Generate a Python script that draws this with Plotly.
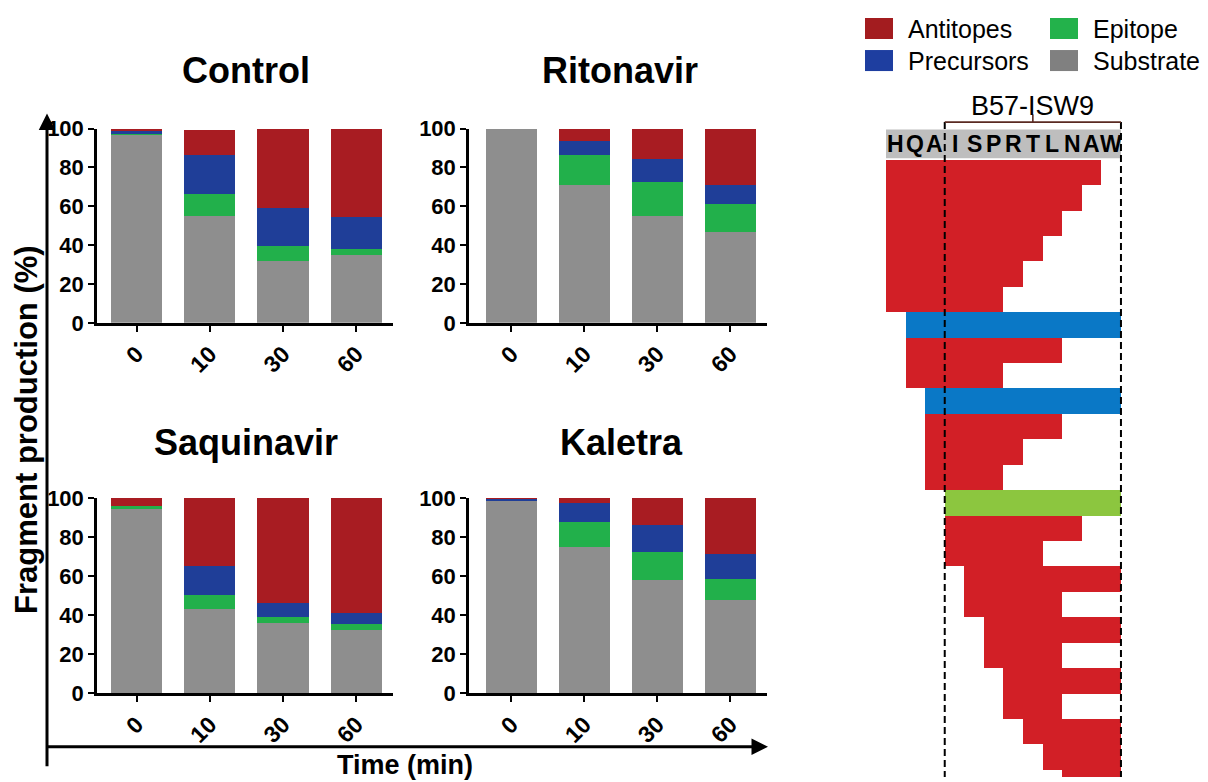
import plotly.graph_objects as go

# ---------------- data ----------------
times = ["0", "10", "30", "60"]
treatments = ["Control", "Ritonavir", "Saquinavir", "Kaletra"]
series_names = ["Substrate", "Epitope", "Precursors", "Antitopes"]

control_substrate = [97.0, 55.0, 31.7, 34.8]
control_epitope = [0.8, 11.4, 7.8, 3.3]
control_precursors = [0.8, 19.9, 19.7, 16.3]
control_antitopes = [1.4, 13.2, 40.8, 45.6]

ritonavir_substrate = [100.0, 71.2, 55.0, 46.7]
ritonavir_epitope = [0.0, 15.4, 17.4, 14.5]
ritonavir_precursors = [0.0, 6.9, 12.0, 10.0]
ritonavir_antitopes = [0.0, 6.5, 15.6, 28.8]

saquinavir_substrate = [94.5, 42.9, 36.0, 32.2]
saquinavir_epitope = [1.2, 7.4, 3.1, 3.0]
saquinavir_precursors = [0.0, 15.1, 7.2, 6.0]
saquinavir_antitopes = [4.3, 34.6, 53.7, 58.8]

kaletra_substrate = [98.6, 74.8, 58.0, 47.7]
kaletra_epitope = [0.0, 12.7, 14.2, 10.6]
kaletra_precursors = [1.0, 9.9, 14.1, 13.1]
kaletra_antitopes = [0.3, 2.6, 13.7, 28.6]

y_ticks = [0, 20, 40, 60, 80, 100]

# peptide map (right panel)
residues = ["H", "Q", "A", "I", "S", "P", "R", "T", "L", "N", "A", "W"]
epitope_label = "B57-ISW9"
frag_start = [0, 0, 0, 0, 0, 0, 1, 1, 1, 2, 2, 2, 2, 3, 3, 3, 4, 4, 5, 5, 6, 6, 7, 8, 9]
frag_end = [11, 10, 9, 8, 7, 6, 12, 9, 6, 12, 9, 7, 6, 12, 10, 8, 12, 9, 12, 9, 12, 9, 12, 12, 12]
frag_type = ["A", "A", "A", "A", "A", "A", "P", "A", "A", "P", "A", "A", "A",
             "E", "A", "A", "A", "A", "A", "A", "A", "A", "A", "A", "A"]

# ---------------- styles ----------------
W, H = 1192, 782
OFF_X = 8                 # horizontal page offset of the figure
SY, OFF_Y = 0.967, 20.5   # observed vertical mapping of figure pixels in the photo
FONT = "Liberation Sans, Arial, Helvetica, sans-serif"
BAR_COLORS = {"Substrate": "#8E8E8E", "Epitope": "#22B04B",
              "Precursors": "#1F3E98", "Antitopes": "#A81C22"}
LEG_COLORS = {"Antitopes": "#A31C1F", "Epitope": "#23B24B",
              "Precursors": "#1E3EA0", "Substrate": "#808080"}
MAP_COLORS = {"A": "#D21F26", "P": "#0A78C6", "E": "#8CC63F"}


def fy(y):
    """target photo y -> figure pixel y"""
    return (y - OFF_Y) / SY


def px(x):
    return (x - OFF_X) / W


def py(y):
    return 1 - fy(y) / H


data_by_treatment = {
    "Control": [control_substrate, control_epitope, control_precursors, control_antitopes],
    "Ritonavir": [ritonavir_substrate, ritonavir_epitope, ritonavir_precursors, ritonavir_antitopes],
    "Saquinavir": [saquinavir_substrate, saquinavir_epitope, saquinavir_precursors, saquinavir_antitopes],
    "Kaletra": [kaletra_substrate, kaletra_epitope, kaletra_precursors, kaletra_antitopes],
}

# panel frames in target pixels: (x_left, x_right, y_top(100), y_bottom(0), x_range_start)
frames = {
    "Control": (97, 393, 129, 323, -0.54),
    "Ritonavir": (469, 767, 129, 323, -0.58),
    "Saquinavir": (97, 393, 498, 693, -0.54),
    "Kaletra": (469, 767, 498, 693, -0.58),
}
title_pos = {"Control": (246, 71), "Ritonavir": (620, 71),
             "Saquinavir": (246, 443), "Kaletra": (621, 443)}

fig = go.Figure()
layout = dict(
    width=W, height=H, margin=dict(l=0, r=0, t=0, b=0),
    paper_bgcolor="white", plot_bgcolor="white",
    barmode="stack", bargap=0.3, showlegend=False,
    font=dict(family=FONT, color="black"),
)
annotations = []
shapes = []

for k, tname in enumerate(treatments):
    idx = "" if k == 0 else str(k + 1)
    xl, xr, yt, yb, x0 = frames[tname]
    for sname, vals in zip(series_names, data_by_treatment[tname]):
        fig.add_trace(go.Bar(
            x=times, y=vals, name=sname, xaxis="x" + idx, yaxis="y" + idx,
            marker=dict(color=BAR_COLORS[sname], line=dict(width=0)),
            showlegend=False,
        ))
    layout["xaxis" + idx] = dict(
        domain=[px(xl), px(xr)], anchor="y" + idx, type="category",
        categoryorder="array", categoryarray=times,
        range=[x0, 3.5], showline=True, linewidth=2.5, linecolor="black",
        ticks="outside", ticklen=6, tickwidth=2, tickcolor="black",
        tickangle=-45, tickfont=dict(size=23, family=FONT, weight="bold"),
        showgrid=False, zeroline=False, fixedrange=True,
    )
    layout["yaxis" + idx] = dict(
        domain=[py(yb), py(yt)], anchor="x" + idx, range=[0, 100],
        tickvals=y_ticks, showline=True, linewidth=2.5, linecolor="black",
        ticks="outside", ticklen=6, tickwidth=2, tickcolor="black",
        tickfont=dict(size=22, family=FONT, weight="bold"),
        showgrid=False, zeroline=False, fixedrange=True,
    )
    tx, ty = title_pos[tname]
    annotations.append(dict(
        text=tname, x=px(tx), y=py(ty), xref="paper", yref="paper",
        showarrow=False, xanchor="center", yanchor="middle",
        font=dict(size=36, family=FONT, weight="bold"),
    ))

# ---------------- peptide map ----------------
RES_X0, RES_W = 886.0, 19.58          # target pixel of residue 0 left edge, residue width
ROW_Y0, ROW_H = 160.0, 25.4           # target pixel of first fragment row top, row height
map_left, map_right, map_top = 878, 1130, 110
map_bottom = OFF_Y + SY * H           # lowest target y the figure can reach
xr5 = [(map_left - RES_X0) / RES_W, (map_right - RES_X0) / RES_W]
yr5 = [(map_bottom - ROW_Y0) / ROW_H, (map_top - ROW_Y0) / ROW_H]

for t in ["A", "P", "E"]:
    rows = [i + 0.5 for i, ft in enumerate(frag_type) if ft == t]
    starts = [frag_start[i] for i, ft in enumerate(frag_type) if ft == t]
    lengths = [frag_end[i] - frag_start[i] for i, ft in enumerate(frag_type) if ft == t]
    fig.add_trace(go.Bar(
        orientation="h", y=rows, x=lengths, base=starts, width=1,
        xaxis="x5", yaxis="y5", marker=dict(color=MAP_COLORS[t], line=dict(width=0)),
        showlegend=False, name={"A": "Antitopes", "P": "Precursors", "E": "Epitope"}[t],
    ))

layout["xaxis5"] = dict(domain=[px(map_left), px(map_right)], anchor="y5",
                        range=xr5, visible=False, fixedrange=True)
layout["yaxis5"] = dict(domain=[0, py(map_top)], anchor="x5",
                        range=yr5, visible=False, fixedrange=True)

band_top = (130 - ROW_Y0) / ROW_H
band_bot = (158.5 - ROW_Y0) / ROW_H
shapes.append(dict(type="rect", xref="x5", yref="y5", x0=0, x1=len(residues),
                   y0=band_top, y1=band_bot, fillcolor="#BEBEBE", line=dict(width=0),
                   layer="below"))
for i, r in enumerate(residues):
    annotations.append(dict(text=r, x=i + 0.5, y=(band_top + band_bot) / 2,
                            xref="x5", yref="y5", showarrow=False,
                            xanchor="center", yanchor="middle",
                            font=dict(size=23, family=FONT, weight="bold")))

ep_start = 3
ep_end = len(residues)
bracket_y = (122.5 - ROW_Y0) / ROW_H
bottom_y = (map_bottom - ROW_Y0) / ROW_H
for xv in [ep_start, ep_end]:
    shapes.append(dict(type="line", xref="x5", yref="y5", x0=xv, x1=xv,
                       y0=bracket_y, y1=bottom_y, layer="above",
                       line=dict(color="black", width=2, dash="7px,4px")))
shapes.append(dict(type="line", xref="x5", yref="y5", x0=ep_start, x1=ep_end,
                   y0=bracket_y, y1=bracket_y, line=dict(color="#5A2A22", width=1.6)))
mid = (ep_start + ep_end) / 2
shapes.append(dict(type="line", xref="x5", yref="y5", x0=mid, x1=mid,
                   y0=bracket_y, y1=(115 - ROW_Y0) / ROW_H,
                   line=dict(color="#5A2A22", width=1.6)))
annotations.append(dict(text=epitope_label, x=px(RES_X0 + mid * RES_W), y=py(106),
                        xref="paper", yref="paper", showarrow=False,
                        xanchor="center", yanchor="middle",
                        font=dict(size=27, family=FONT)))

# ---------------- legend (manual) ----------------
legend_items = [("Antitopes", 865, 29), ("Epitope", 1050, 29),
                ("Precursors", 865, 61), ("Substrate", 1050, 61)]
for name, lx, ly in legend_items:
    shapes.append(dict(type="rect", xref="paper", yref="paper",
                       x0=px(lx), x1=px(lx + 28), y0=py(ly + 10.5), y1=py(ly - 10.5),
                       fillcolor=LEG_COLORS[name], line=dict(width=0)))
    annotations.append(dict(text=name, x=px(lx + 41), y=py(ly), xref="paper", yref="paper",
                            showarrow=False, xanchor="left", yanchor="middle",
                            font=dict(size=25, family=FONT)))

# ---------------- outer axes arrows and titles ----------------
ax_left, ax_top, ax_bottom, ax_right = 47, 114, 746.5, 768
annotations.append(dict(text="", x=px(ax_left), y=py(ax_top), xref="paper", yref="paper",
                        ax=0, ay=(ax_bottom - ax_top) / SY, axref="pixel", ayref="pixel",
                        showarrow=True, arrowhead=2, arrowsize=1.1, arrowwidth=3,
                        arrowcolor="black"))
annotations.append(dict(text="", x=px(ax_right), y=py(ax_bottom), xref="paper", yref="paper",
                        ax=-(ax_right - ax_left) - 1.5, ay=0, axref="pixel", ayref="pixel",
                        showarrow=True, arrowhead=2, arrowsize=1.1, arrowwidth=3,
                        arrowcolor="black"))
annotations.append(dict(text="Fragment production (%)", x=px(27), y=py(430),
                        xref="paper", yref="paper", showarrow=False, textangle=-90,
                        xanchor="center", yanchor="middle",
                        font=dict(size=31, family=FONT, weight="bold")))
annotations.append(dict(text="Time (min)", x=px(405), y=py(765),
                        xref="paper", yref="paper", showarrow=False,
                        xanchor="center", yanchor="middle",
                        font=dict(size=27, family=FONT, weight="bold")))

layout["annotations"] = annotations
layout["shapes"] = shapes
fig.update_layout(**layout)
fig.write_html("out.html")
